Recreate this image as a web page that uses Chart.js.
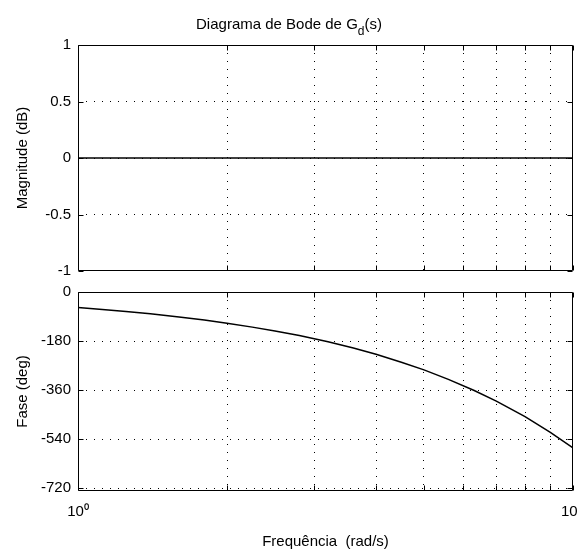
<!DOCTYPE html>
<html>
<head>
<meta charset="utf-8">
<script src="https://cdn.jsdelivr.net/npm/chart.js@4.4.0/dist/chart.umd.min.js"></script>
<style>
  html, body { margin: 0; padding: 0; background: #fff; overflow: hidden; }
  #wrap { position: relative; width: 579px; height: 550px; }
  canvas { position: absolute; left: 0; top: 0; }
</style>
</head>
<body>
<div id="wrap">
  <canvas id="mag" width="579" height="550"></canvas>
  <canvas id="phase" width="579" height="550"></canvas>
</div>
<script>
// values
const freq     = [1, 1.12, 1.25, 1.4, 1.6, 1.8, 2, 2.25, 2.5, 2.8, 3.2, 3.6, 4, 4.5, 5, 5.6, 6.3, 7, 8, 9, 10];
const magDb    = [0, 0, 0, 0, 0, 0, 0, 0, 0, 0, 0, 0, 0, 0, 0, 0, 0, 0, 0, 0, 0];
const phaseDeg = [-57, -64, -72, -80, -92, -103, -115, -129, -143, -160, -183, -206, -229, -258, -286, -321, -361, -401, -458, -516, -573];

const freqTicks  = [1, 2, 3, 4, 5, 6, 7, 8, 9, 10];
const magTicks   = [-1, -0.5, 0, 0.5, 1];
const phaseTicks = [-720, -540, -360, -180, 0];

const FONT = '"Liberation Sans", Arial, sans-serif';

// dotted grid, hidden on the box edges
const dotted = (edges) => (c) => (c.tick && edges.includes(c.tick.value)) ? 'rgba(0,0,0,0)' : '#000';

// MATLAB style box with inward tick marks
const boxPlugin = {
    id: 'box',
    afterDraw(chart) {
        const { ctx, chartArea: a, scales } = chart;
        const L = Math.round(a.left) + 0.5, R = Math.round(a.right) - 0.5;
        const T = Math.round(a.top) + 0.5, B = Math.round(a.bottom) - 0.5;
        ctx.save();
        ctx.setLineDash([]);
        ctx.strokeStyle = '#000';
        ctx.lineWidth = 1;
        ctx.beginPath();
        freqTicks.forEach((v) => {
            const x = Math.round(scales.x.getPixelForValue(v)) + 0.5;
            ctx.moveTo(x, T); ctx.lineTo(x, T + 5);
            ctx.moveTo(x, B); ctx.lineTo(x, B - 5);
        });
        scales.y.ticks.forEach((t) => {
            const y = Math.round(scales.y.getPixelForValue(t.value)) + 0.5;
            ctx.moveTo(L, y); ctx.lineTo(L + 5, y);
            ctx.moveTo(R, y); ctx.lineTo(R - 5, y);
        });
        ctx.stroke();
        ctx.beginPath();
        ctx.moveTo(L, T); ctx.lineTo(R, T); ctx.lineTo(R, B); ctx.lineTo(L, B); ctx.closePath();
        ctx.stroke();
        ctx.restore();
    }
};

const titlePlugin = {
    id: 'bodeTitle',
    afterDraw(chart) {
        const ctx = chart.ctx;
        const main = 'Diagrama de Bode de G', sub = 'd', tail = '(s)';
        ctx.save();
        ctx.fillStyle = '#000';
        ctx.textBaseline = 'alphabetic';
        ctx.font = '15px ' + FONT;
        const w1 = ctx.measureText(main).width, w3 = ctx.measureText(tail).width;
        ctx.font = '12px ' + FONT;
        const w2 = ctx.measureText(sub).width;
        let x = 289 - (w1 + w2 + w3) / 2;
        ctx.font = '15px ' + FONT;
        ctx.fillText(main, x, 29);
        x += w1;
        ctx.font = '12px ' + FONT;
        ctx.fillText(sub, x, 35);
        x += w2;
        ctx.font = '15px ' + FONT;
        ctx.fillText(tail, x, 29);
        ctx.restore();
    }
};

function xScale(showLabels) {
    return {
        type: 'logarithmic',
        min: 1,
        max: 10,
        afterBuildTicks: (s) => { s.ticks = freqTicks.map((v) => ({ value: v })); },
        afterFit: (s) => {
            s.height = showLabels ? 59 : 0;
            s.paddingLeft = 0;
            s.paddingRight = 0;
        },
        grid: { drawTicks: false, color: dotted([1, 10]), lineWidth: 1 },
        border: { display: false, dash: [1, 7] },
        ticks: {
            display: showLabels,
            autoSkip: false,
            maxRotation: 0,
            padding: 12,
            color: '#000',
            font: { family: FONT, size: 15 },
            callback: (v) => v === 1 ? '10\u2070' : (v === 10 ? '10\u2002' : '')
        },
        title: {
            display: showLabels,
            text: 'Frequência  (rad/s)',
            color: '#000',
            font: { family: FONT, size: 15, lineHeight: 1.1 },
            padding: 0
        }
    };
}

function yScale(min, max, ticks, label) {
    return {
        min: min,
        max: max,
        afterBuildTicks: (s) => { s.ticks = ticks.map((v) => ({ value: v })); },
        afterFit: (s) => { s.width = 78; },
        grid: { drawTicks: false, color: dotted([max, min]), lineWidth: 1 },
        border: { display: false, dash: [1, 7] },
        ticks: {
            padding: 7,
            color: '#000',
            font: { family: FONT, size: 15 },
            callback: (v) => String(v)
        },
        title: {
            display: true,
            text: label,
            color: '#000',
            font: { family: FONT, size: 15, lineHeight: 1.2 },
            padding: { top: 14, bottom: 0 }
        }
    };
}

function lineData(ys) {
    return freq.map((f, i) => ({ x: f, y: ys[i] }));
}

const common = {
    responsive: false,
    animation: false,
    events: [],
    plugins: { legend: { display: false }, tooltip: { enabled: false } },
    elements: { point: { radius: 0 }, line: { tension: 0 } }
};

new Chart(document.getElementById('mag'), {
    type: 'line',
    data: { datasets: [{ data: lineData(magDb), borderColor: '#000', borderWidth: 1.5 }] },
    options: Object.assign({}, common, {
        layout: { padding: { left: 0, right: 6, top: 45, bottom: 279 } },
        scales: { x: xScale(false), y: yScale(-1, 1, magTicks, 'Magnitude (dB)') }
    }),
    plugins: [boxPlugin, titlePlugin]
});

new Chart(document.getElementById('phase'), {
    type: 'line',
    data: { datasets: [{ data: lineData(phaseDeg), borderColor: '#000', borderWidth: 1.5 }] },
    options: Object.assign({}, common, {
        layout: { padding: { left: 0, right: 6, top: 292, bottom: 0 } },
        scales: { x: xScale(true), y: yScale(-731, 0, phaseTicks, 'Fase (deg)') }
    }),
    plugins: [boxPlugin]
});
</script>
</body>
</html>
